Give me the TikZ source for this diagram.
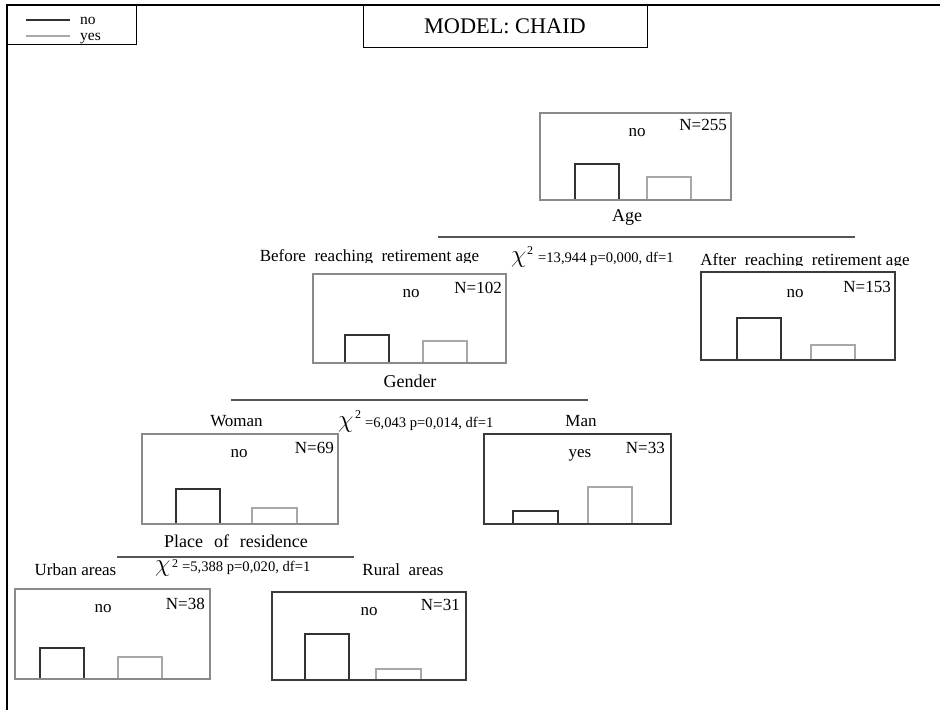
\documentclass[tikz,border=0pt]{standalone}
\usepackage{fontspec}
\setmainfont{Liberation Serif}
\definecolor{boxgray}{RGB}{138,138,138}
\definecolor{boxdark}{RGB}{58,58,58}
\definecolor{bardark}{RGB}{50,50,50}
\definecolor{barlight}{RGB}{168,168,168}
\definecolor{splitc}{RGB}{85,85,85}
\begin{document}
\begin{tikzpicture}[x=1pt,y=-1pt,
  frame/.style={draw=black,line width=1.4pt},
  legbox/.style={draw=black,line width=1.4pt,inner sep=0,anchor=north west},
  gbox/.style={draw=boxgray,line width=2pt,inner sep=0,anchor=north west},
  dbox/.style={draw=boxdark,line width=2pt,inner sep=0,anchor=north west},
  darkbar/.style={draw=bardark,line width=2pt},
  lightbar/.style={draw=barlight,line width=2pt},
  splitline/.style={draw=splitc,line width=2.8pt},
  lab/.style={font=\fontsize{17}{18}\selectfont,inner sep=0},
  var/.style={font=\fontsize{18}{19}\selectfont,inner sep=0,anchor=base},
  leg/.style={font=\fontsize{15.5}{16}\selectfont,inner sep=0,anchor=base west},
  chit/.style={font=\fontsize{14.6}{16}\selectfont,inner sep=0,anchor=base west},
  chis/.style={font=\fontsize{26}{26}\selectfont,inner sep=0,anchor=base west},
  sup/.style={font=\fontsize{12}{12}\selectfont,inner sep=0,anchor=base west},
  titl/.style={font=\fontsize{22.3}{24}\selectfont,inner sep=0,anchor=base}]
\useasboundingbox (0,0) rectangle (940,710);
% frame
\coordinate (fb) at (7,710);
\coordinate (ftl) at (7,5);
\coordinate (ftr) at (940,5);
\draw[frame] (fb) -- (ftl) -- (ftr);
% legend
\node[legbox,minimum width=129pt,minimum height=39pt] (legend) at (7,5) {};
\coordinate (l1a) at (26,20); \coordinate (l1b) at (70,20);
\coordinate (l2a) at (26,36); \coordinate (l2b) at (70,36);
\draw[bardark,line width=2pt] (l1a) -- (l1b);
\draw[barlight,line width=2pt] (l2a) -- (l2b);
\node[leg] (legno) at (80,24.5) {no};
\node[leg] (legyes) at (80,40.5) {yes};
% title
\node[legbox,minimum width=284pt,minimum height=42pt] (titlebox) at (363,5) {};
\node[titl] (title) at (505,33) {MODEL: CHAID};

% root
\draw[darkbar] (575,199) |- (619,164) -- (619,199);
\draw[lightbar] (647,199) |- (691,177) -- (691,199);
\node[gbox,minimum width=191pt,minimum height=87pt] (root) at (539,112) {};
\node[lab,anchor=base] (rootno) at (637,136) {no};
\node[lab,anchor=base east] (rootn) at (727,130) {N=255};
\node[var] (age) at (627,221) {Age};
\coordinate (agea) at (438,237); \coordinate (ageb) at (855,237);
\draw[splitline] (agea) -- (ageb);
\begin{scope}
\clip (240,240) rectangle (500,262);
\node[lab,anchor=base] (before) at (369.5,261.5) {Before~ reaching~ retirement age};
\end{scope}
\begin{scope}
\clip (690,240) rectangle (930,265.5);
\node[lab,anchor=base] (after) at (805,265) {After~ reaching~ retirement age};
\end{scope}
\node[chis] (chi1) at (511,262) {$\chi$};
\node[sup] (chi1s) at (527,254) {2};
\node[chit] (chi1t) at (538,262) {=13,944 p=0,000, df=1};

% before
\draw[darkbar] (345,362) |- (389,335) -- (389,362);
\draw[lightbar] (423,362) |- (467,341) -- (467,362);
\node[gbox,minimum width=193pt,minimum height=89pt] (bef) at (312,273) {};
\node[lab,anchor=base] (befno) at (411,297) {no};
\node[lab,anchor=base east] (befn) at (502,293) {N=102};
% after
\draw[darkbar] (737,359) |- (781,318) -- (781,359);
\draw[lightbar] (811,359) |- (855,345) -- (855,359);
\node[dbox,minimum width=194pt,minimum height=88pt] (aft) at (700,271) {};
\node[lab,anchor=base] (aftno) at (795,297) {no};
\node[lab,anchor=base east] (aftn) at (891,292) {N=153};

\node[var] (gender) at (410,387) {Gender};
\coordinate (gena) at (231,400); \coordinate (genb) at (588,400);
\draw[splitline] (gena) -- (genb);
\node[lab,anchor=base] (woman) at (236.5,426) {Woman};
\node[lab,anchor=base] (man) at (581,426) {Man};
\node[chis] (chi2) at (338,427) {$\chi$};
\node[sup] (chi2s) at (355,418) {2};
\node[chit] (chi2t) at (365,427) {=6,043 p=0,014, df=1};

% woman
\draw[darkbar] (176,523) |- (220,489) -- (220,523);
\draw[lightbar] (252,523) |- (297,508) -- (297,523);
\node[gbox,minimum width=196pt,minimum height=90pt] (wom) at (141,433) {};
\node[lab,anchor=base] (womno) at (239,457) {no};
\node[lab,anchor=base east] (womn) at (334,453) {N=69};
% man
\draw[darkbar] (513,523) |- (558,511) -- (558,523);
\draw[lightbar] (588,523) |- (632,487) -- (632,523);
\node[dbox,minimum width=187pt,minimum height=90pt] (manb) at (483,433) {};
\node[lab,anchor=base] (manyes) at (580,457) {yes};
\node[lab,anchor=base east] (mann) at (665,453) {N=33};

\node[var] (place) at (236,547) {Place\hspace{0.6em}of\hspace{0.6em}residence};
\coordinate (pla) at (117,557); \coordinate (plb) at (354,557);
\draw[splitline] (pla) -- (plb);
\node[lab,anchor=base] (urban) at (75.5,575) {Urban areas};
\node[lab,anchor=base] (rural) at (403,575) {Rural~ areas};
\node[chis] (chi3) at (155,571) {$\chi$};
\node[sup] (chi3s) at (172,567) {2};
\node[chit] (chi3t) at (182,571) {=5,388 p=0,020, df=1};

% urban
\draw[darkbar] (40,678) |- (84,648) -- (84,678);
\draw[lightbar] (118,678) |- (162,657) -- (162,678);
\node[gbox,minimum width=195pt,minimum height=90pt] (urb) at (14,588) {};
\node[lab,anchor=base] (urbno) at (103,612) {no};
\node[lab,anchor=base east] (urbn) at (205,609) {N=38};
% rural
\draw[darkbar] (305,679) |- (349,634) -- (349,679);
\draw[lightbar] (376,679) |- (421,669) -- (421,679);
\node[dbox,minimum width=194pt,minimum height=88pt] (rur) at (271,591) {};
\node[lab,anchor=base] (rurno) at (369,615) {no};
\node[lab,anchor=base east] (rurn) at (460,610) {N=31};
\end{tikzpicture}
\end{document}
